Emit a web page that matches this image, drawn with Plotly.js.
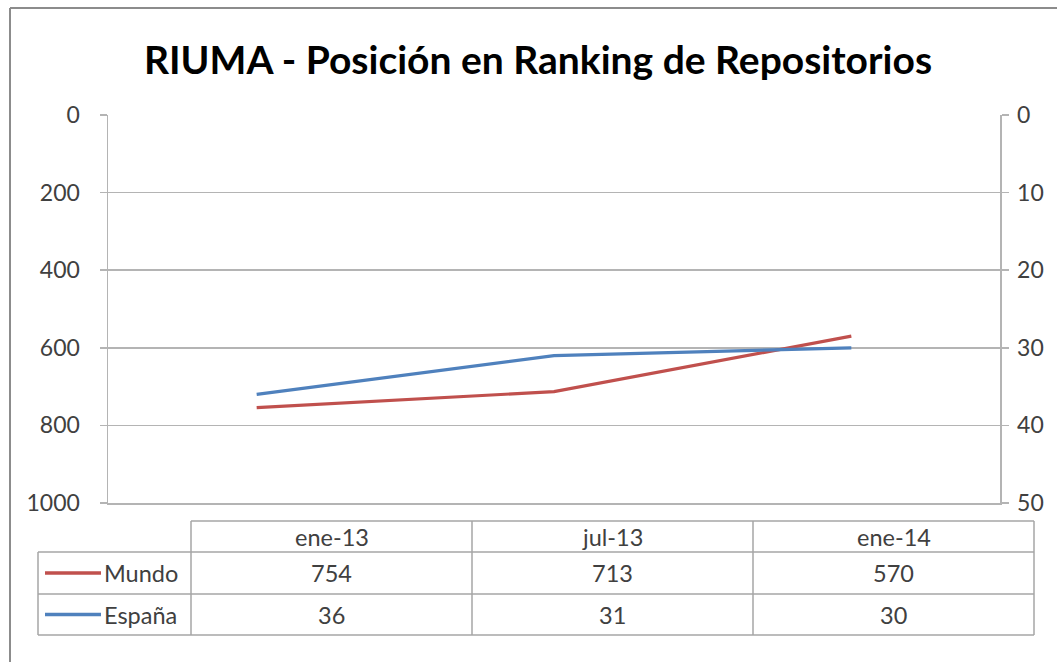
<!DOCTYPE html>
<html><head><meta charset="utf-8">
<script src="https://cdn.plot.ly/plotly-3.0.1.min.js"></script>
<style>html,body{margin:0;padding:0;background:#fff}</style>
</head><body><div id="chart" style="width:1057px;height:662px"></div>
<script>
const categories = ["ene-13", "jul-13", "ene-14"];
const seriesNames = ["Mundo", "España"];
const mundo = [754, 713, 570];
const espana = [36, 31, 30];
const leftTicks = [0, 200, 400, 600, 800, 1000];
const rightTicks = [0, 10, 20, 30, 40, 50];

const W = 1057, H = 662;
const px = x => x / W, py = y => 1 - y / H;
const RED = "#C0504D", BLUE = "#4F81BD";
const FONT = "Lato, 'Open Sans', sans-serif";
const TXT = "#404040";
const GRID = "#b4b4b4";

const traces = [
  {x: categories, y: mundo, name: seriesNames[0], type: "scatter", mode: "lines",
   line: {color: RED, width: 3.2}, yaxis: "y"},
  {x: categories, y: espana, name: seriesNames[1], type: "scatter", mode: "lines",
   line: {color: BLUE, width: 3.2}, yaxis: "y2"}
];

// table geometry (pixels)
const tLeft = 38, tLabelRight = 191, tRight = 1034;
const rowY = [521, 552, 594, 635];
const colW = (tRight - tLabelRight) / categories.length;
const shapes = [];
const annotations = [];
const L = (x0, y0, x1, y1, c, w) => shapes.push({type: "line", xref: "paper", yref: "paper",
  x0: px(x0), y0: py(y0), x1: px(x1), y1: py(y1), line: {color: c, width: w}});

// outer frame
L(10, 8, W, 8, "#8c8c8c", 2);
L(10, 8, 10, H, "#8c8c8c", 2);

// table lines
L(tLabelRight, rowY[0], tRight, rowY[0], "#a6a6a6", 1.5);
L(tLeft, rowY[1], tRight, rowY[1], "#a6a6a6", 1.5);
L(tLeft, rowY[2], tRight, rowY[2], "#a6a6a6", 1.5);
L(tLeft, rowY[3], tRight, rowY[3], "#a6a6a6", 1.5);
L(tLeft, rowY[1], tLeft, rowY[3], "#a6a6a6", 1.5);
for (let i = 0; i <= categories.length; i++) {
  const x = tLabelRight + i * colW;
  L(x, rowY[0], x, rowY[3], "#a6a6a6", 1.5);
}
const TFS = 23.5;
categories.forEach((c, i) => {
  annotations.push({xref: "paper", yref: "paper", x: px(tLabelRight + (i + 0.5) * colW),
    y: py((rowY[0] + rowY[1]) / 2), text: c, showarrow: false,
    font: {family: FONT, size: TFS, color: TXT}, xanchor: "center", yanchor: "middle"});
});
const rows = [mundo, espana];
const cols = [RED, BLUE];
rows.forEach((vals, r) => {
  const yc = (rowY[r + 1] + rowY[r + 2]) / 2;
  L(45, yc, 101, yc, cols[r], 3.5);
  annotations.push({xref: "paper", yref: "paper", x: px(102), y: py(yc), text: seriesNames[r],
    showarrow: false, font: {family: FONT, size: TFS, color: TXT}, xanchor: "left", yanchor: "middle"});
  vals.forEach((v, i) => {
    annotations.push({xref: "paper", yref: "paper", x: px(tLabelRight + (i + 0.5) * colW),
      y: py(yc), text: String(v), showarrow: false,
      font: {family: FONT, size: TFS, color: TXT}, xanchor: "center", yanchor: "middle"});
  });
});

const layout = {
  width: W, height: H,
  margin: {l: 0, r: 0, t: 0, b: 0},
  paper_bgcolor: "#fff", plot_bgcolor: "#fff",
  showlegend: false,
  title: {text: "<b>RIUMA - Posición en Ranking de Repositorios</b>", x: px(538), xanchor: "center",
    y: py(60), yanchor: "middle", font: {family: FONT, size: 39, color: "#000"}},
  xaxis: {domain: [px(108), px(1000)], type: "category", range: [-0.5, 2.5],
    showticklabels: false, showgrid: false, showline: true, linecolor: GRID, linewidth: 1.5,
    ticks: "", zeroline: false, fixedrange: true},
  yaxis: {domain: [py(503), py(115)], range: [1000, 0], tickvals: leftTicks,
    ticktext: leftTicks.map(String), showgrid: true, gridcolor: GRID, gridwidth: 1.5,
    showline: true, linecolor: GRID, linewidth: 1.5, ticks: "outside", ticklen: 7,
    tickcolor: GRID, tickwidth: 1.5, ticklabelstandoff: 15, zeroline: false,
    tickfont: {family: FONT, size: 23, color: TXT}},
  yaxis2: {overlaying: "y", side: "right", range: [50, 0], tickvals: rightTicks,
    ticktext: rightTicks.map(String), showgrid: false, showline: true, linecolor: GRID,
    linewidth: 1.5, ticks: "outside", ticklen: 7, tickcolor: GRID, tickwidth: 1.5,
    ticklabelstandoff: 4, zeroline: false, anchor: "x",
    tickfont: {family: FONT, size: 23, color: TXT}},
  shapes: shapes,
  annotations: annotations
};
Plotly.newPlot("chart", traces, layout, {staticPlot: true});
</script></body></html>
